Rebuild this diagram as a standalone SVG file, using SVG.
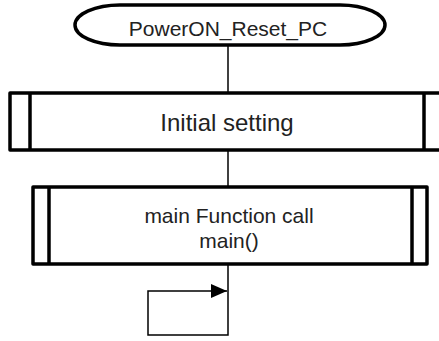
<svg xmlns="http://www.w3.org/2000/svg" width="439" height="341" viewBox="0 0 439 341">
<defs>
<style>
.box{fill:#fff;stroke:#000;stroke-width:3.5;stroke-linejoin:round}
.sub{fill:none;stroke:#000;stroke-width:3.5}
.ln{fill:none;stroke:#000;stroke-width:1.5}
text{font-family:"Liberation Sans",Arial,sans-serif;fill:#222;text-anchor:middle}
</style>
<marker id="ah" markerWidth="16" markerHeight="14" refX="16" refY="7" orient="auto" markerUnits="userSpaceOnUse">
<path d="M0,0 L16,7 L0,14 Z" fill="#000"/>
</marker>
</defs>
<g id="connectors">
<line class="ln" x1="228" y1="45" x2="228" y2="93"/>
<line class="ln" x1="228" y1="150" x2="228" y2="187"/>
<polyline class="ln" points="228,264 228,335 148,335 148,291 227,291" marker-end="url(#ah)"/>
</g>
<g id="start">
<rect class="box" x="75" y="5" width="310" height="40" rx="45" ry="20"/>
<text x="228" y="36" font-size="21">PowerON_Reset_PC</text>
</g>
<g id="initial">
<rect class="box" x="10" y="93" width="440" height="57"/>
<line class="sub" x1="30" y1="93" x2="30" y2="150"/>
<line class="sub" x1="424" y1="93" x2="424" y2="150"/>
<text x="227" y="131" font-size="24">Initial setting</text>
</g>
<g id="main">
<rect class="box" x="33" y="187" width="394" height="77"/>
<line class="sub" x1="49" y1="187" x2="49" y2="264"/>
<line class="sub" x1="412" y1="187" x2="412" y2="264"/>
<text x="229" y="223" font-size="21">main Function call</text>
<text x="229" y="248" font-size="21">main()</text>
</g>
</svg>
